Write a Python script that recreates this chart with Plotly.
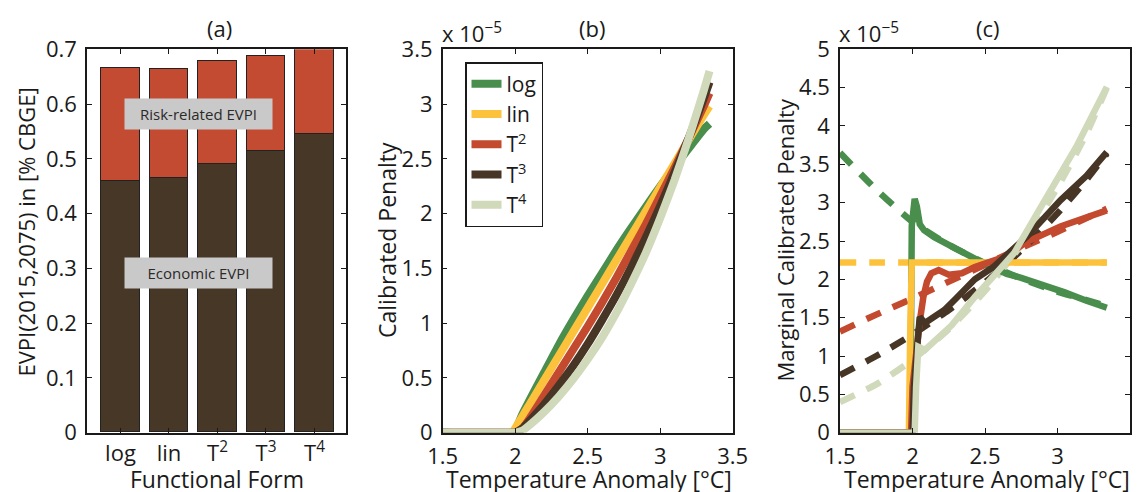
import plotly.graph_objects as go

W, H = 1142, 492
FONT = "Open Sans"
TXT = "#1a1a1a"

# ---------------- panel (a) data ----------------
forms = ["log", "lin", "T<sup>2</sup>", "T<sup>3</sup>", "T<sup>4</sup>"]
form_pos = [1, 2, 3, 4, 5]
economic_evpi = [0.459, 0.464, 0.490, 0.513, 0.544]
risk_evpi = [0.206, 0.200, 0.189, 0.174, 0.166]
a_yticks = [0, 0.1, 0.2, 0.3, 0.4, 0.5, 0.6, 0.7]
a_yticklabels = ["0", "0.1", "0.2", "0.3", "0.4", "0.5", "0.6", "0.7"]

# ---------------- panel (b) data (units of 1e-5) ----------------
b_temp = [1.5, 1.98, 2.0, 2.05, 2.1, 2.2, 2.3, 2.4, 2.5, 2.6, 2.7, 2.8, 2.9,
          3.0, 3.1, 3.2, 3.3, 3.34]
b_log = [0, 0, 0.02, 0.17, 0.30, 0.55, 0.80, 1.03, 1.25, 1.46, 1.67, 1.87,
         2.06, 2.25, 2.43, 2.60, 2.77, 2.82]
b_lin = [0, 0, 0.04, 0.15, 0.26, 0.48, 0.70, 0.92, 1.14, 1.36, 1.58, 1.80,
         2.02, 2.24, 2.46, 2.68, 2.90, 2.98]
b_T2 = [0, 0, 0, 0.04, 0.13, 0.34, 0.55, 0.76, 0.97, 1.19, 1.42, 1.66,
        1.90, 2.16, 2.42, 2.70, 2.98, 3.10]
b_T3 = [0, 0, 0, 0.04, 0.11, 0.26, 0.43, 0.61, 0.81, 1.03, 1.26, 1.51,
        1.78, 2.07, 2.38, 2.70, 3.05, 3.20]
b_T4 = [0, 0, 0, 0.02, 0.07, 0.19, 0.33, 0.49, 0.67, 0.87, 1.10, 1.36,
        1.64, 1.96, 2.31, 2.70, 3.12, 3.30]

# ---------------- panel (c) data (units of 1e-5) ----------------
c_log_T = [1.5, 1.985, 1.995, 2.005, 2.015, 2.03, 2.05, 2.08, 2.15, 2.25, 2.35,
           2.45, 2.55, 2.65, 2.75, 2.9, 3.05, 3.2, 3.34]
c_log_v = [0, 0, 2.7, 3.0, 3.05, 2.95, 2.72, 2.64, 2.55, 2.45, 2.34, 2.25,
           2.16, 2.07, 2.02, 1.93, 1.83, 1.72, 1.63]
c_lin_T = [1.5, 1.975, 1.985, 1.995, 3.34]
c_lin_v = [0, 0, 1.4, 2.22, 2.22]
c_T2_T = [1.5, 1.99, 2.0, 2.03, 2.05, 2.075, 2.1, 2.13, 2.18, 2.25, 2.34,
          2.43, 2.55, 2.63, 2.79, 3.02, 3.34]
c_T2_v = [0, 0, 0.6, 1.2, 1.45, 1.77, 1.97, 2.08, 2.12, 2.06, 2.08, 2.16,
          2.23, 2.29, 2.49, 2.69, 2.90]
c_T3_T = [1.5, 2.0, 2.01, 2.03, 2.05, 2.086, 2.15, 2.22, 2.3, 2.43, 2.557,
          2.79, 3.02, 3.2, 3.34]
c_T3_v = [0, 0, 0.6, 1.17, 1.51, 1.43, 1.5, 1.6, 1.75, 2.0, 2.16, 2.56, 3.03,
          3.35, 3.66]
c_T4_T = [1.5, 2.015, 2.025, 2.04, 2.086, 2.17, 2.27, 2.43, 2.557, 2.7, 2.9,
          3.13, 3.34]
c_T4_v = [0, 0, 0.6, 1.12, 1.08, 1.22, 1.4, 1.77, 2.03, 2.34, 2.99, 3.73, 4.51]

c_dash_T = [1.5, 1.75, 2.0, 2.25, 2.5, 2.75, 3.0, 3.2, 3.34]
c_dash_log = [3.65, 3.17, 2.75, 2.45, 2.21, 2.01, 1.84, 1.73, 1.65]
c_dash_lin = [2.22, 2.22, 2.22, 2.22, 2.22, 2.22, 2.22, 2.22, 2.22]
c_dash_T2 = [1.32, 1.54, 1.75, 1.97, 2.19, 2.41, 2.62, 2.80, 2.92]
c_dash_T3 = [0.75, 1.0, 1.28, 1.6, 1.96, 2.38, 2.86, 3.3, 3.64]
c_dash_T4 = [0.40, 0.63, 0.95, 1.35, 1.85, 2.45, 3.2, 3.9, 4.5]

temp_ticks = [1.5, 2, 2.5, 3, 3.5]
temp_ticklabels = ["1.5", "2", "2.5", "3", "3.5"]
b_yticks = [0, 0.5, 1, 1.5, 2, 2.5, 3, 3.5]
b_yticklabels = ["0", "0.5", "1", "1.5", "2", "2.5", "3", "3.5"]
c_yticks = [0, 0.5, 1, 1.5, 2, 2.5, 3, 3.5, 4, 4.5, 5]
c_yticklabels = ["0", "0.5", "1", "1.5", "2", "2.5", "3", "3.5", "4", "4.5", "5"]

# ---------------- styles ----------------
COLORS = ["#4a8e4d", "#fdc23b", "#c3492f", "#473526", "#d0d9b9"]
BAR_DARK = "#473727"
BAR_RED = "#c24b32"

fig = go.Figure()

# (a) stacked bars
fig.add_trace(go.Bar(x=form_pos, y=economic_evpi, width=0.8, marker_color=BAR_DARK,
                     marker_line=dict(color="#222222", width=1), showlegend=False,
                     xaxis="x", yaxis="y"))
fig.add_trace(go.Bar(x=form_pos, y=risk_evpi, width=0.8, marker_color=BAR_RED,
                     marker_line=dict(color="#222222", width=1), showlegend=False,
                     xaxis="x", yaxis="y"))

# (b) calibrated penalty
b_series = [b_log, b_lin, b_T2, b_T3, b_T4]
for i, ys in enumerate(b_series):
    fig.add_trace(go.Scatter(x=b_temp, y=ys, mode="lines", name=forms[i],
                             line=dict(color=COLORS[i], width=8, shape="spline", smoothing=0.5),
                             xaxis="x2", yaxis="y2", showlegend=True))

# (c) dashed functional forms
c_dash = [c_dash_log, c_dash_lin, c_dash_T2, c_dash_T3, c_dash_T4]
for i, ys in enumerate(c_dash):
    fig.add_trace(go.Scatter(x=c_dash_T, y=ys, mode="lines",
                             line=dict(color=COLORS[i], width=6.5, dash="16px,13px",
                                       shape="spline", smoothing=0.6),
                             xaxis="x3", yaxis="y3", showlegend=False))
# (c) solid marginal calibrated penalty
c_solid = [(c_log_T, c_log_v), (c_lin_T, c_lin_v), (c_T2_T, c_T2_v),
           (c_T3_T, c_T3_v), (c_T4_T, c_T4_v)]
for i, (xs, ys) in enumerate(c_solid):
    fig.add_trace(go.Scatter(x=xs, y=ys, mode="lines",
                             line=dict(color=COLORS[i], width=6.5),
                             xaxis="x3", yaxis="y3", showlegend=False))

# ---------------- layout ----------------
def px_x(p):
    return p / W

def px_y(p):
    return 1 - p / H

ydom = [px_y(432.7), px_y(49.3)]
axis_common = dict(showline=True, linecolor=TXT, linewidth=1.5, mirror="ticks",
                   ticks="inside", ticklen=5, tickwidth=1, tickcolor=TXT,
                   showgrid=False, zeroline=False, automargin=False,
                   tickfont=dict(family=FONT, size=22, color=TXT))

fig.update_layout(
    template="none",
    width=W, height=H, margin=dict(l=0, r=0, t=0, b=0, pad=0, autoexpand=False),
    paper_bgcolor="white", plot_bgcolor="white",
    barmode="stack", bargap=0,
    font=dict(family=FONT, color=TXT),
    xaxis=dict(domain=[px_x(87), px_x(346)], range=[0.31, 5.65], tickvals=form_pos,
               ticktext=forms, anchor="y", **axis_common),
    yaxis=dict(domain=ydom, range=[0, 0.7], tickvals=a_yticks, ticktext=a_yticklabels,
               anchor="x", ticklabelstandoff=4, **axis_common),
    xaxis2=dict(domain=[px_x(442.7), px_x(732.7)], range=[1.5, 3.5], tickvals=temp_ticks,
                ticktext=temp_ticklabels, anchor="y2", ticklabelstandoff=3, **axis_common),
    yaxis2=dict(domain=ydom, range=[0, 3.5], tickvals=b_yticks, ticktext=b_yticklabels,
                anchor="x2", ticklabelstandoff=4, **axis_common),
    xaxis3=dict(domain=[px_x(840), px_x(1130)], range=[1.5, 3.5], tickvals=temp_ticks,
                ticktext=temp_ticklabels, anchor="y3", ticklabelstandoff=3, **axis_common),
    yaxis3=dict(domain=ydom, range=[0, 5], tickvals=c_yticks, ticktext=c_yticklabels,
                anchor="x3", ticklabelstandoff=4, **axis_common),
    legend=dict(x=px_x(465), y=px_y(62), xanchor="left", yanchor="top",
                traceorder="normal",
                bordercolor=TXT, borderwidth=1.5, bgcolor="white",
                font=dict(family=FONT, size=21, color=TXT), tracegroupgap=0),
)

ann = []
def text_ann(x, y, text, size=22, angle=0, xanchor="center", yanchor="middle"):
    ann.append(dict(x=px_x(x), y=px_y(y), xref="paper", yref="paper", text=text,
                    showarrow=False, textangle=angle, xanchor=xanchor, yanchor=yanchor,
                    font=dict(family=FONT, size=size, color=TXT)))

# panel titles
text_ann(220, 28, "(a)")
text_ann(592, 28, "(b)")
text_ann(988, 28, "(c)")
# axis titles
text_ann(25, 232.5, "EVPI(2015,2075) in [% CBGE]", size=22, angle=-90)
text_ann(216.7, 479, "Functional Form", size=23)
text_ann(387, 240, "Calibrated Penalty", size=23, angle=-90)
text_ann(588.5, 479, "Temperature Anomaly [°C]", size=23)
text_ann(785, 240.5, "Marginal Calibrated Penalty", size=22, angle=-90)
text_ann(987, 479, "Temperature Anomaly [°C]", size=23)
# exponent labels
text_ann(440, 50, "x 10<sup>−5</sup>", xanchor="left", yanchor="bottom")
text_ann(837, 50, "x 10<sup>−5</sup>", xanchor="left", yanchor="bottom")

# gray boxes in panel (a)
for label, yv in [("Risk-related EVPI", 0.581), ("Economic EVPI", 0.292)]:
    ann.append(dict(x=2.61, y=yv, xref="x", yref="y", text=label, showarrow=False,
                    bgcolor="#cac9c9", width=147, height=30, borderpad=0,
                    font=dict(family=FONT, size=15, color="#2a2a2a")))

fig.update_layout(annotations=ann)
fig.write_html("out.html")
